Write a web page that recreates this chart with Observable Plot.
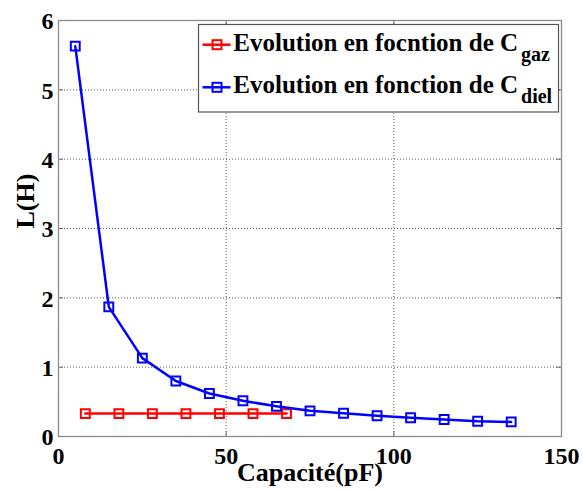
<!DOCTYPE html>
<html><head><meta charset="utf-8">
<script src="https://cdn.jsdelivr.net/npm/d3@7"></script>
<script src="https://cdn.jsdelivr.net/npm/@observablehq/plot@0.6"></script>
<style>
html,body{margin:0;padding:0;background:#fff;}
#wrap{position:relative;width:583px;height:493px;}
#wrap svg, #wrap svg text{font-family:"Liberation Serif","Times New Roman",serif !important;}
#legend{position:absolute;left:0;top:0;pointer-events:none;}
</style></head><body><div id="wrap"></div>
<script>
// ---- data ----
const capGaz = [8, 18, 28, 38, 48, 58, 68];
const lGaz = [0.33, 0.33, 0.33, 0.33, 0.33, 0.33, 0.33];
const capDiel = [5, 15, 25, 35, 45, 55, 65, 75, 85, 95, 105, 115, 125, 135];
const lDiel = [5.63, 1.87, 1.13, 0.80, 0.62, 0.515, 0.435, 0.37, 0.335, 0.30, 0.27, 0.245, 0.22, 0.21];
const xTicks = [0, 50, 100, 150];
const yTicks = [0, 1, 2, 3, 4, 5, 6];
const seriesNames = ["Evolution en focntion de C", "Evolution en fonction de C"];
const seriesSubs = ["gaz", "diel"];
const seriesColors = ["#ff0000", "#0000ff"];
const xLabel = "Capacité(pF)";
const yLabel = "L(H)";

const gaz = capGaz.map((c, i) => ({c, l: lGaz[i]}));
const diel = capDiel.map((c, i) => ({c, l: lDiel[i]}));

const W = 583, H = 493, mL = 58, mR = 22, mT = 20, mB = 57;
const plotW = W - mL - mR, plotH = H - mT - mB;
const font = "Liberation Serif";
const fmt = d => String(d);

const chart = Plot.plot({
  width: W, height: H,
  marginLeft: mL, marginRight: mR, marginTop: mT, marginBottom: mB,
  style: {fontFamily: font, background: "#fff", overflow: "visible"},
  x: {domain: [0, 150]},
  y: {domain: [0, 6]},
  marks: [
    Plot.gridX(xTicks.slice(1, -1), {stroke: "#333", strokeOpacity: 0.8, strokeDasharray: "1,2"}),
    Plot.gridY(yTicks.slice(1, -1), {stroke: "#333", strokeOpacity: 0.8, strokeDasharray: "1,2"}),
    Plot.tickX(xTicks, {insetTop: plotH - 5, stroke: "#666"}),
    Plot.tickX(xTicks, {insetBottom: plotH - 5, stroke: "#666"}),
    Plot.tickY(yTicks, {insetRight: plotW - 5, stroke: "#666"}),
    Plot.tickY(yTicks, {insetLeft: plotW - 5, stroke: "#666"}),
    Plot.frame({stroke: "#8c8c8c", strokeWidth: 1.3}),
    Plot.axisX(xTicks, {tickSize: 0, tickPadding: 10, tickFormat: fmt, fontSize: 24, fontWeight: "bold", fontFamily: font, fill: "#000", label: null}),
    Plot.axisY(yTicks, {tickSize: 0, tickPadding: 5, tickFormat: fmt, fontSize: 24, fontWeight: "bold", fontFamily: font, fill: "#000", label: null, dy: 1}),
    Plot.text([xLabel], {frameAnchor: "bottom", lineAnchor: "bottom", dy: 44, fontSize: 26, fontWeight: "bold", fontFamily: font, fill: "#000"}),
    Plot.text([yLabel], {frameAnchor: "left", lineAnchor: "bottom", rotate: -90, dx: -25, fontSize: 26, fontWeight: "bold", fontFamily: font, fill: "#000"}),
    Plot.line(gaz, {x: "c", y: "l", stroke: seriesColors[0], strokeWidth: 2.5}),
    Plot.dot(gaz, {x: "c", y: "l", symbol: "square", r: 5, stroke: seriesColors[0], strokeWidth: 2, fill: "none"}),
    Plot.line(diel, {x: "c", y: "l", stroke: seriesColors[1], strokeWidth: 2.5}),
    Plot.dot(diel, {x: "c", y: "l", symbol: "square", r: 5, stroke: seriesColors[1], strokeWidth: 2, fill: "none"})
  ]
});

const wrap = document.getElementById("wrap");
wrap.appendChild(chart);

// ---- legend overlay ----
const leg = d3.select(wrap).append("svg").attr("id", "legend")
  .attr("width", W).attr("height", H);
leg.append("rect").attr("x", 198.5).attr("y", 24.5).attr("width", 360).attr("height", 87.5)
  .attr("fill", "#fff").attr("stroke", "#555").attr("stroke-width", 1.2);
const baselines = [50.7, 93.3];
seriesNames.forEach((name, i) => {
  const b = baselines[i];
  const g = leg.append("g");
  g.append("line").attr("x1", 202.5).attr("x2", 230.5).attr("y1", b - 6).attr("y2", b - 6)
    .attr("stroke", seriesColors[i]).attr("stroke-width", 2.5);
  g.append("rect").attr("x", 212.5).attr("y", b - 10.5).attr("width", 9).attr("height", 9)
    .attr("fill", "none").attr("stroke", seriesColors[i]).attr("stroke-width", 2);
  const t = g.append("text").attr("x", 233.3).attr("y", b)
    .attr("font-size", 25).attr("font-weight", "bold").attr("fill", "#000");
  t.append("tspan").text(name);
  t.append("tspan").attr("dx", 3).attr("dy", 10).attr("font-size", 20).text(seriesSubs[i]);
});
</script>
</body></html>
